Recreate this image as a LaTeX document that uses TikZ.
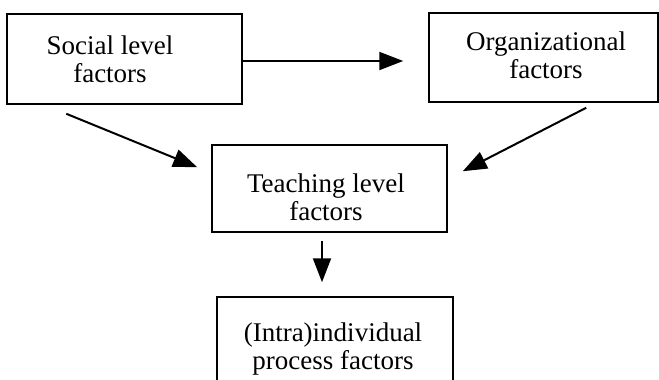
\documentclass[tikz,border=0pt]{standalone}
\usepackage{fontspec}
\setmainfont{Liberation Serif}
\usetikzlibrary{arrows.meta}
\begin{document}
\begin{tikzpicture}[x=1pt,y=-1pt,
  box/.style={draw=black,line width=1.5pt,rectangle,inner sep=0pt},
  lbl/.style={align=center,inner sep=0pt,font=\fontsize{27}{28}\selectfont},
  arr/.style={draw=black,line width=2pt,-{Triangle[length=24pt,width=18pt]}}]
  \useasboundingbox (0,0) rectangle (659,380);
  \clip (0,0) rectangle (659,380);
  % boxes
  \node[box,minimum width=235pt,minimum height=90pt] (B1) at (124.5,59) {};
  \node[box,minimum width=229pt,minimum height=89pt] (B2) at (543.5,57.5) {};
  \node[box,minimum width=235pt,minimum height=87pt] (B3) at (329.5,188.5) {};
  \node[box,minimum width=236pt,minimum height=103pt] (B4) at (335,348.5) {};
  % labels
  \node[lbl] (T1) at (110,59) {Social level\\factors};
  \node[lbl] (T2) at (546,55) {Organizational\\factors};
  \node[lbl] (T3) at (326,197) {Teaching level\\factors};
  \node[lbl] (T4) at (333,349) {(Intra)individual\\process factors};
  % connectors
  \draw[arr] ([yshift=-2pt]B1.east) -- ([shift={(-25pt,-3.5pt)}]B2.west);
  \draw[arr] ([shift={(60pt,-9pt)}]B1.south west) -- ([shift={(-14pt,-23pt)}]B3.north west);
  \draw[arr] ([shift={(158pt,-5pt)}]B2.south west) -- ([shift={(15pt,-27pt)}]B3.north east);
  \draw[arr] ([shift={(-7.5pt,-8pt)}]B3.south) -- ([shift={(-13pt,14pt)}]B4.north);
\end{tikzpicture}
\end{document}
